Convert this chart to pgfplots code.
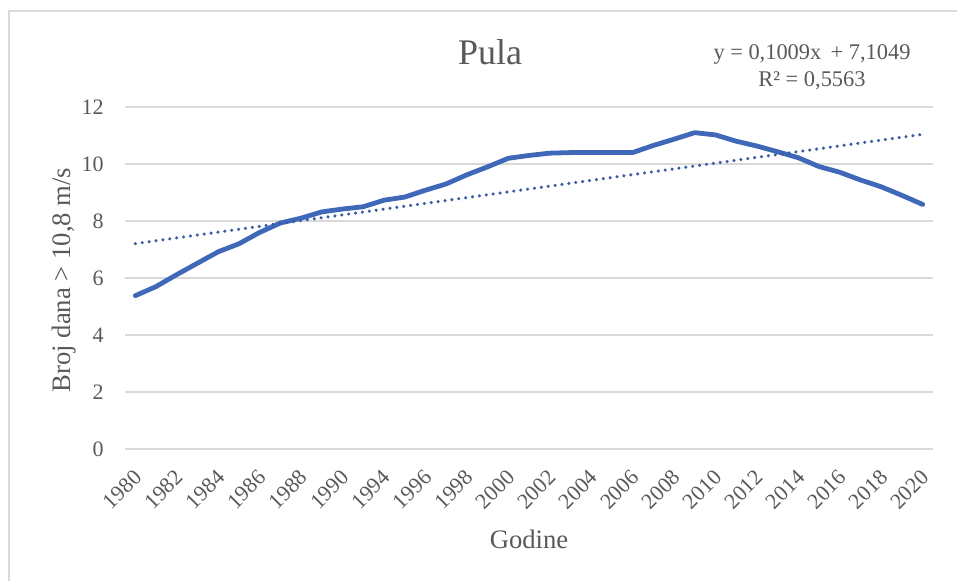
\documentclass[border=0pt]{standalone}
\usepackage{fontspec}
\setmainfont{Liberation Serif}
\usepackage{pgfplots}
\pgfplotsset{compat=1.18}
\definecolor{txt}{HTML}{595959}
\definecolor{grd}{HTML}{D9D9D9}
\definecolor{ser}{HTML}{3F69B8}
\definecolor{trd}{HTML}{3A5CA6}
\def\u{0.75pt}
\begin{document}
\begin{tikzpicture}
\path[use as bounding box] (0,0) rectangle ({957*\u},{-581*\u});
\draw[grd, line width=1.2pt] ({9*\u},{-581*\u}) -- ({9*\u},{-11*\u}) -- ({957*\u},{-11*\u});
\begin{axis}[
  at={({125*\u},{-107*\u})}, anchor=north west,
  width={808*\u}, height={342*\u}, scale only axis,
  xmin=0.5, xmax=39.5, ymin=0, ymax=12,
  ytick={0,2,4,6,8,10,12},
  xtick={1,3,5,7,9,11,13,15,17,19,21,23,25,27,29,31,33,35,37,39},
  xticklabels={1980,1982,1984,1986,1988,1990,1994,1996,1998,2000,2002,2004,2006,2008,2010,2012,2014,2016,2018,2020},
  axis line style={draw=none},
  major tick length=0pt,
  ymajorgrids, grid style={grd, line width=1.3pt},
  /pgf/number format/assume math mode=true,
  tick label style={font=\fontsize{16.5}{18}\selectfont, text=txt},
  yticklabel style={inner sep=0pt, anchor=east, xshift={-21*\u}},
  xticklabel style={inner sep=0pt, xshift=2pt, yshift=-18.5pt, rotate=45, anchor=east},
  clip=false,
]
\addplot[ser, line width=3.6pt, line cap=round, line join=round] coordinates {
(1,5.38) (2,5.70) (3,6.12) (4,6.52) (5,6.92) (6,7.20) (7,7.60) (8,7.93)
(9,8.10) (10,8.32) (11,8.42) (12,8.50) (13,8.73) (14,8.84) (15,9.08) (16,9.30)
(17,9.62) (18,9.90) (19,10.20) (20,10.30) (21,10.38) (22,10.40) (23,10.40) (24,10.40)
(25,10.40) (26,10.65) (27,10.87) (28,11.10) (29,11.02) (30,10.80) (31,10.63) (32,10.43)
(33,10.22) (34,9.91) (35,9.71) (36,9.44) (37,9.20) (38,8.90) (39,8.58)
};
\addplot[trd, line width=2.6pt, line cap=round, dash pattern=on 0.01pt off 5.2pt] coordinates {
(1,7.2058) (39,11.0400)
};
\end{axis}
\node[anchor=base, text=txt, font=\fontsize{27}{30}\selectfont] at ({490*\u},{-65*\u}) {Pula};
\node[anchor=base, text=txt, font=\fontsize{16.8}{18}\selectfont] at ({812*\u},{-59.3*\u}) {y = 0,1009x \,+ 7,1049};
\node[anchor=base, text=txt, font=\fontsize{16.8}{18}\selectfont] at ({812*\u},{-86.7*\u}) {R² = 0,5563};
\node[anchor=base, rotate=90, text=txt, font=\fontsize{20}{22}\selectfont] at ({70*\u},{-280*\u}) {Broj dana > 10,8 m/s};
\node[anchor=base, text=txt, font=\fontsize{20}{22}\selectfont] at ({529*\u},{-548*\u}) {Godine};
\end{tikzpicture}
\end{document}
